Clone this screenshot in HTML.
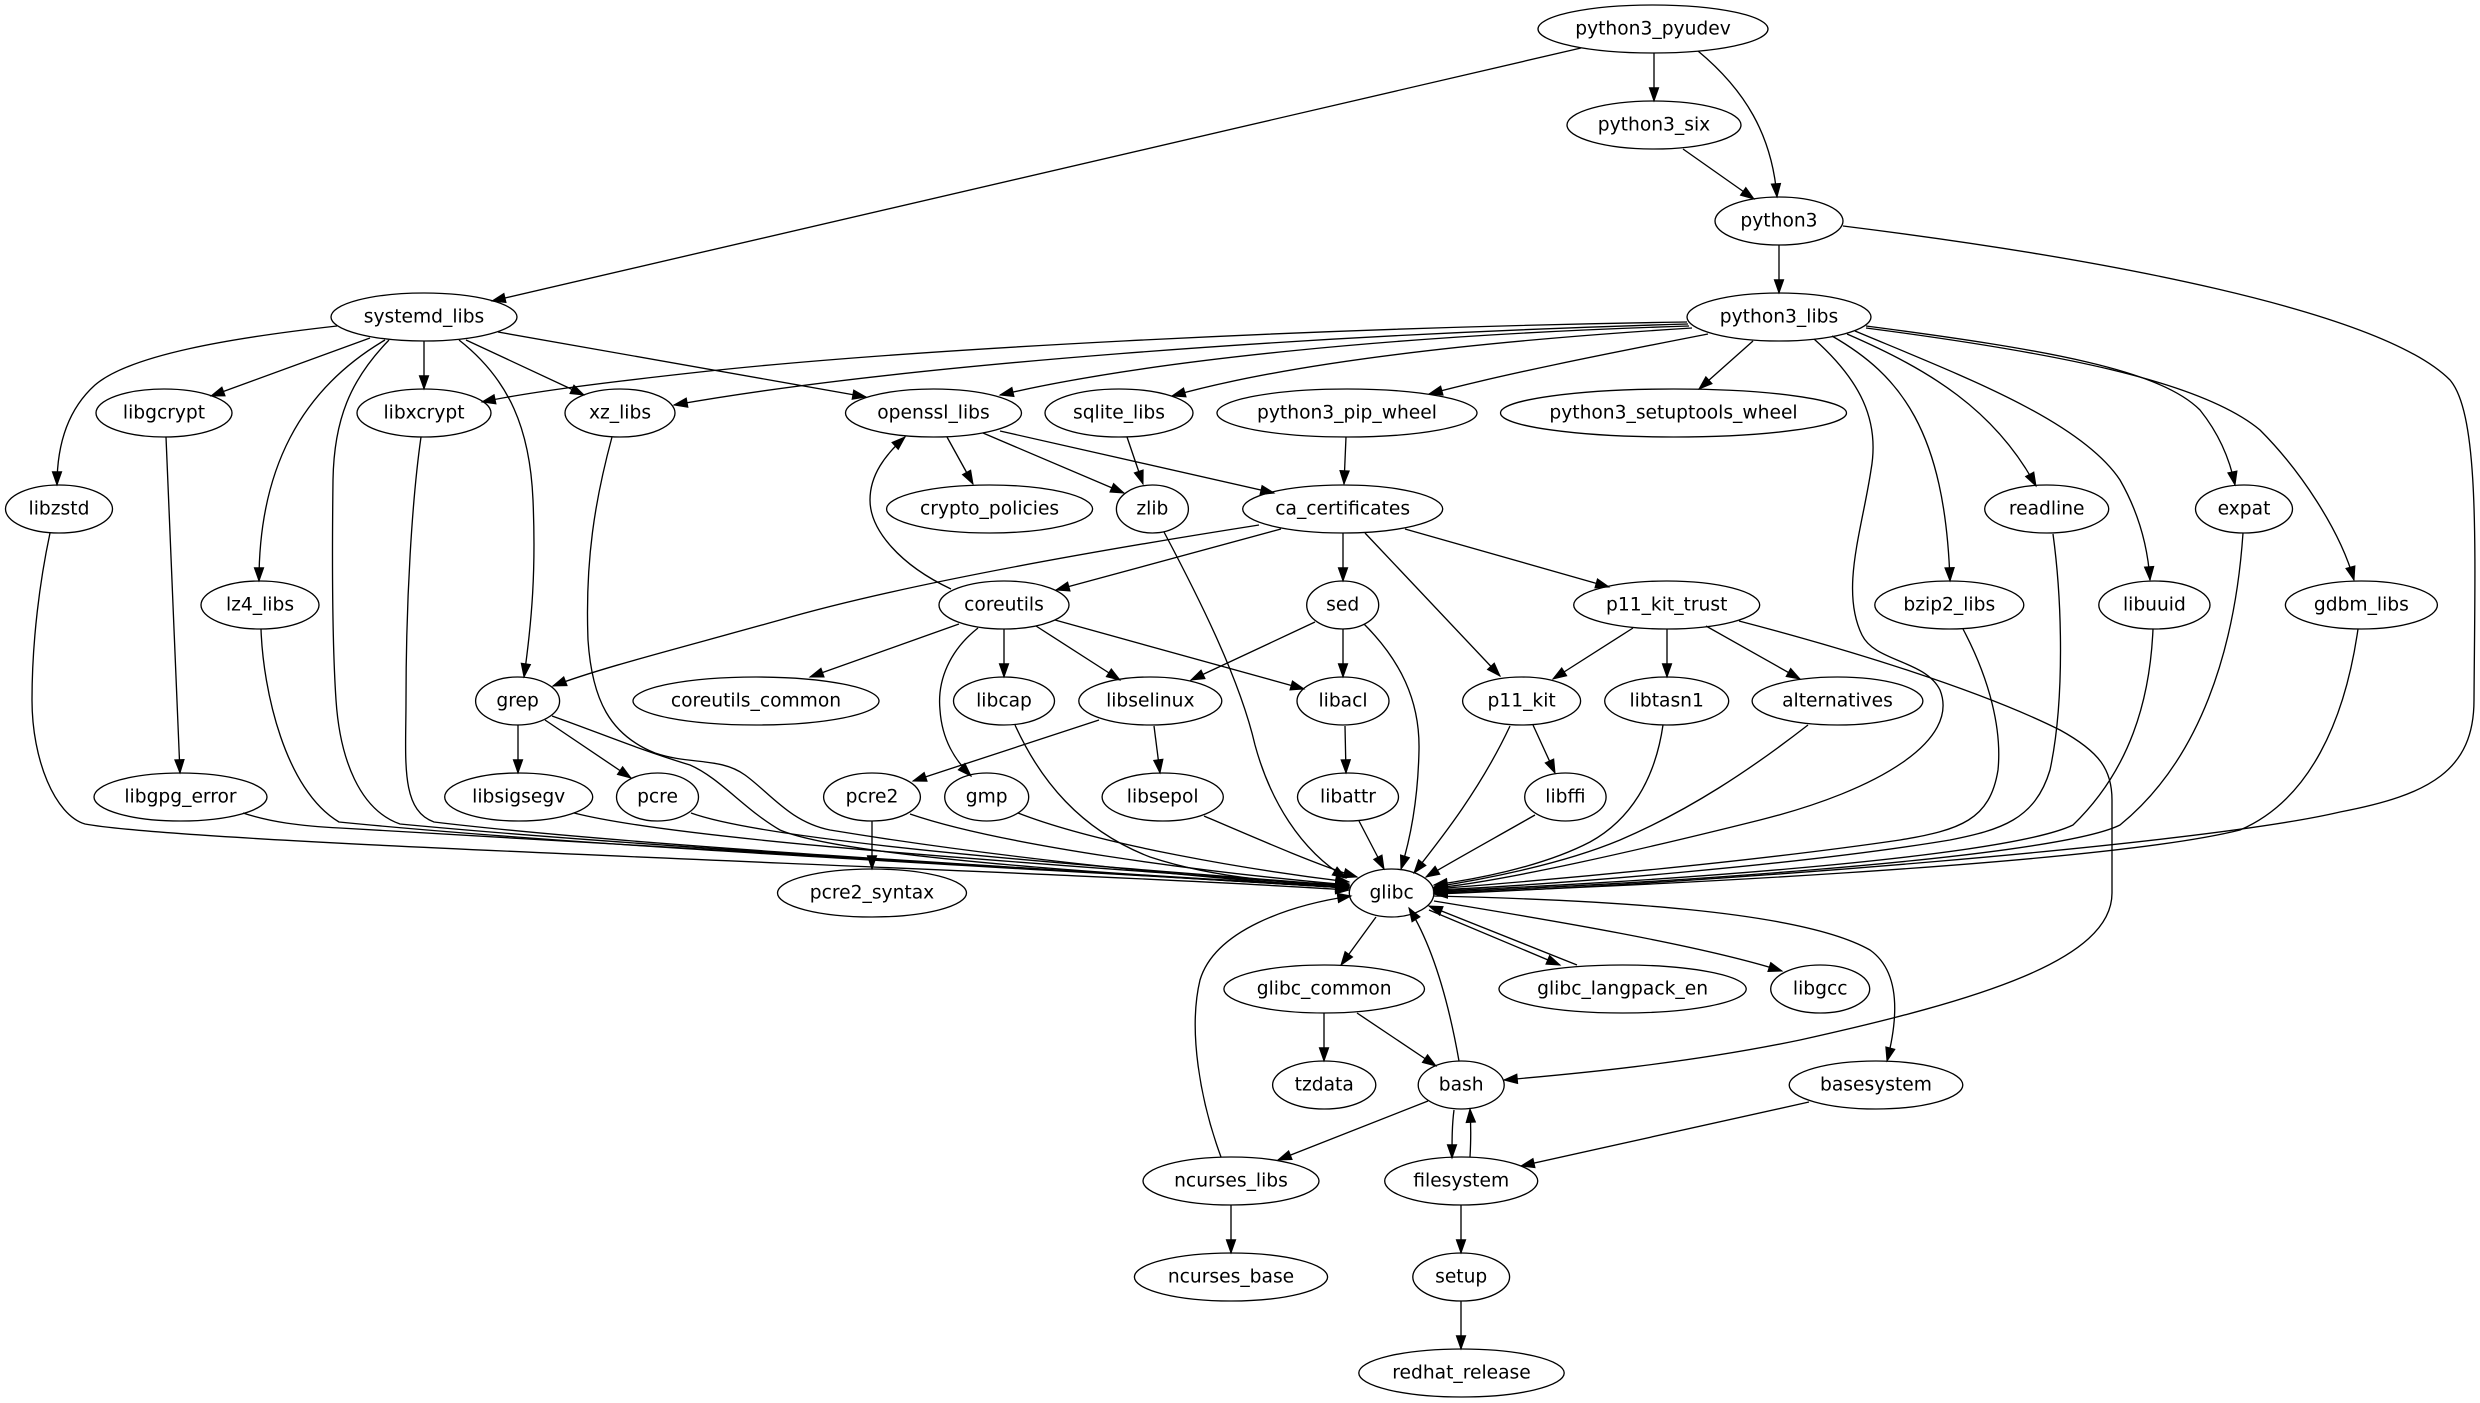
<!DOCTYPE html>
<html><head><meta charset="utf-8"><style>
html,body{margin:0;padding:0;background:#fff;}
svg{display:block;}
text{font-family:"DejaVu Sans","Liberation Sans",sans-serif;font-size:18.67px;fill:#000;text-anchor:middle;}
ellipse{fill:none;stroke:#000;stroke-width:1.33;}
path{fill:none;stroke:#000;stroke-width:1.33;}
</style></head><body>
<svg width="2480" height="1403" viewBox="0 0 2480 1403" xmlns="http://www.w3.org/2000/svg">
<defs><marker id="a" markerUnits="userSpaceOnUse" markerWidth="14" markerHeight="10" refX="13.3" refY="4.67" orient="auto" viewBox="0 0 14 10" style="overflow:visible"><path d="M0,0 L13.3,4.67 L0,9.33 z" style="fill:#000;stroke:#000;stroke-width:1"/></marker></defs>
<rect width="2480" height="1403" fill="#fff"/>
<g marker-end="url(#a)">
<path d="M1581,48 L492,301" marker-end="url(#a)"/>
<path d="M1654,53 L1654,101" marker-end="url(#a)"/>
<path d="M1698,51 C1745,90 1772,135 1777,197" marker-end="url(#a)"/>
<path d="M1683,149 L1754,199" marker-end="url(#a)"/>
<path d="M1779,245 L1779,293" marker-end="url(#a)"/>
<path d="M1843,226 C2100,258 2380,310 2450,380 C2480,415 2475,550 2474,700 C2474,770 2430,795 2340,812 C2200,845 1700,884 1434,894" marker-end="url(#a)"/>
<path d="M337,326 C230,338 130,355 95,385 C65,412 57,450 57,485" marker-end="url(#a)"/>
<path d="M370,338 L211,396" marker-end="url(#a)"/>
<path d="M385,340 C300,390 259,470 259,581" marker-end="url(#a)"/>
<path d="M389,340 C350,380 334,420 333,480 C332,560 332,640 336,700 C340,760 360,810 400,824 C650,848 1100,872 1349,888" marker-end="url(#a)"/>
<path d="M424,341 L424,389" marker-end="url(#a)"/>
<path d="M459,340 C510,380 530,430 533,500 C536,570 532,620 524,677" marker-end="url(#a)"/>
<path d="M466,340 L584,395" marker-end="url(#a)"/>
<path d="M498,332 L866,397" marker-end="url(#a)"/>
<path d="M1687,322 C1300,328 900,350 700,372 C600,383 530,392 482,402" marker-end="url(#a)"/>
<path d="M1688,324 C1300,335 900,365 674,405" marker-end="url(#a)"/>
<path d="M1689,326 C1400,335 1150,360 1000,395" marker-end="url(#a)"/>
<path d="M1692,328 C1500,340 1300,360 1172,396" marker-end="url(#a)"/>
<path d="M1708,334 C1600,355 1500,375 1429,394" marker-end="url(#a)"/>
<path d="M1753,341 L1699,389" marker-end="url(#a)"/>
<path d="M1814,339 C1860,380 1880,420 1871,470 C1862,530 1840,590 1862,635 C1875,662 1925,660 1940,690 C1960,740 1880,790 1760,820 C1640,850 1500,882 1434,888" marker-end="url(#a)"/>
<path d="M1832,336 C1900,375 1945,430 1950,581" marker-end="url(#a)"/>
<path d="M1847,334 C1930,370 1995,410 2036,486" marker-end="url(#a)"/>
<path d="M1855,331 C1960,375 2080,420 2120,480 C2140,515 2148,550 2150,580" marker-end="url(#a)"/>
<path d="M1866,326 C2050,350 2160,370 2200,410 C2220,435 2230,460 2235,485" marker-end="url(#a)"/>
<path d="M1866,328 C2050,352 2200,380 2260,430 C2300,470 2340,530 2354,580" marker-end="url(#a)"/>
<path d="M166,437 L180,773" marker-end="url(#a)"/>
<path d="M421,437 C412,500 406,600 406,700 C406,760 400,810 434,822 C650,848 1100,872 1349,888" marker-end="url(#a)"/>
<path d="M612,437 C595,500 585,560 588,640 C592,700 610,735 655,753 C690,765 720,757 745,775 C770,793 790,822 830,830 C1000,858 1200,878 1349,888" marker-end="url(#a)"/>
<path d="M947,437 L973,484" marker-end="url(#a)"/>
<path d="M983,433 L1124,493" marker-end="url(#a)"/>
<path d="M1000,431 L1274,493" marker-end="url(#a)"/>
<path d="M1127,437 L1143,484" marker-end="url(#a)"/>
<path d="M1346,437 L1344,484" marker-end="url(#a)"/>
<path d="M50,533 C40,580 32,640 32,700 C32,760 55,815 85,824 C200,845 1000,868 1349,890" marker-end="url(#a)"/>
<path d="M1164,532 C1200,600 1240,680 1255,745 C1270,800 1300,850 1346,878" marker-end="url(#a)"/>
<path d="M1259,525 C1100,550 900,585 780,620 C680,648 600,668 553,686" marker-end="url(#a)"/>
<path d="M1281,529 L1056,590" marker-end="url(#a)"/>
<path d="M1343,533 L1343,581" marker-end="url(#a)"/>
<path d="M1365,533 L1500,676" marker-end="url(#a)"/>
<path d="M1405,529 L1609,587" marker-end="url(#a)"/>
<path d="M2053,534 C2062,600 2065,700 2050,770 C2035,820 2000,830 1950,840 C1800,865 1550,885 1434,890" marker-end="url(#a)"/>
<path d="M2243,533 C2235,650 2200,760 2120,825 C2050,860 1600,887 1434,892" marker-end="url(#a)"/>
<path d="M261,629 C263,690 285,790 339,822 C600,848 1100,872 1349,888" marker-end="url(#a)"/>
<path d="M951,589 C900,565 870,530 870,500 C870,475 885,455 905,437" marker-end="url(#a)"/>
<path d="M959,624 L810,677" marker-end="url(#a)"/>
<path d="M1004,629 L1004,677" marker-end="url(#a)"/>
<path d="M1036,626 L1120,680" marker-end="url(#a)"/>
<path d="M1055,620 L1304,689" marker-end="url(#a)"/>
<path d="M978,628 C950,650 937,680 940,710 C942,740 955,760 971,776" marker-end="url(#a)"/>
<path d="M1315,622 L1191,680" marker-end="url(#a)"/>
<path d="M1343,629 L1343,677" marker-end="url(#a)"/>
<path d="M1364,624 C1400,660 1420,700 1419,750 C1418,800 1410,840 1401,869" marker-end="url(#a)"/>
<path d="M1633,628 L1553,679" marker-end="url(#a)"/>
<path d="M1667,629 L1667,677" marker-end="url(#a)"/>
<path d="M1706,626 L1800,679" marker-end="url(#a)"/>
<path d="M1739,621 C1850,650 1980,690 2060,730 C2100,752 2112,770 2112,800 L2112,893 C2112,960 1980,1000 1800,1040 C1680,1065 1560,1075 1504,1080" marker-end="url(#a)"/>
<path d="M1963,629 C1990,680 2002,730 1998,770 C1990,820 1960,830 1900,840 C1750,862 1550,880 1434,889" marker-end="url(#a)"/>
<path d="M2153,629 C2150,700 2130,770 2073,825 C2000,860 1600,885 1434,891" marker-end="url(#a)"/>
<path d="M2358,629 C2345,720 2310,800 2240,830 C2100,865 1600,888 1434,893" marker-end="url(#a)"/>
<path d="M518,725 L518,773" marker-end="url(#a)"/>
<path d="M545,720 L631,778" marker-end="url(#a)"/>
<path d="M552,716 C600,733 640,750 690,765 C720,778 745,810 780,830 C850,860 1200,880 1349,886" marker-end="url(#a)"/>
<path d="M1015,725 C1040,780 1080,830 1150,857 C1220,880 1300,884 1349,884" marker-end="url(#a)"/>
<path d="M1099,720 L913,781" marker-end="url(#a)"/>
<path d="M1154,726 L1160,773" marker-end="url(#a)"/>
<path d="M1345,726 L1346,773" marker-end="url(#a)"/>
<path d="M1510,726 C1480,790 1440,840 1414,873" marker-end="url(#a)"/>
<path d="M1533,725 L1555,773" marker-end="url(#a)"/>
<path d="M1663,725 C1655,780 1630,820 1590,842 C1540,868 1470,880 1434,885" marker-end="url(#a)"/>
<path d="M1808,725 C1750,770 1690,810 1620,840 C1560,865 1480,880 1434,887" marker-end="url(#a)"/>
<path d="M243,813 C270,822 300,826 340,828 C600,845 1100,870 1349,888" marker-end="url(#a)"/>
<path d="M574,813 C700,845 1150,870 1349,887" marker-end="url(#a)"/>
<path d="M691,813 C780,845 1150,870 1349,886" marker-end="url(#a)"/>
<path d="M872,821 L872,869" marker-end="url(#a)"/>
<path d="M910,814 C1000,845 1200,872 1349,885" marker-end="url(#a)"/>
<path d="M1018,813 C1100,845 1250,870 1349,882" marker-end="url(#a)"/>
<path d="M1204,816 C1260,840 1320,866 1357,877" marker-end="url(#a)"/>
<path d="M1359,821 L1384,869" marker-end="url(#a)"/>
<path d="M1535,815 C1500,835 1460,857 1426,877" marker-end="url(#a)"/>
<path d="M1376,917 L1341,965" marker-end="url(#a)"/>
<path d="M1429,910 L1560,965" marker-end="url(#a)"/>
<path d="M1434,901 C1550,920 1700,945 1782,971" marker-end="url(#a)"/>
<path d="M1434,896 C1600,900 1800,910 1870,950 C1905,975 1895,1030 1887,1061" marker-end="url(#a)"/>
<path d="M1577,965 L1429,906" marker-end="url(#a)"/>
<path d="M1324,1013 L1324,1061" marker-end="url(#a)"/>
<path d="M1357,1013 L1436,1066" marker-end="url(#a)"/>
<path d="M1459,1061 C1450,1010 1435,950 1409,908" marker-end="url(#a)"/>
<path d="M1428,1101 L1278,1160" marker-end="url(#a)"/>
<path d="M1454,1110 C1452,1125 1452,1140 1452,1158" marker-end="url(#a)"/>
<path d="M1809,1102 L1521,1166" marker-end="url(#a)"/>
<path d="M1470,1157 C1471,1140 1471,1125 1470,1109" marker-end="url(#a)"/>
<path d="M1461,1205 L1461,1253" marker-end="url(#a)"/>
<path d="M1221,1157 C1200,1100 1188,1030 1200,980 C1215,930 1290,905 1351,896" marker-end="url(#a)"/>
<path d="M1231,1205 L1231,1253" marker-end="url(#a)"/>
<path d="M1461,1301 L1461,1349" marker-end="url(#a)"/>
</g>
<g>
<ellipse cx="1653" cy="29" rx="115" ry="24"/><text x="1653" y="34.5">python3_pyudev</text>
<ellipse cx="1654" cy="125" rx="87" ry="24"/><text x="1654" y="130.5">python3_six</text>
<ellipse cx="1779" cy="221" rx="64" ry="24"/><text x="1779" y="226.5">python3</text>
<ellipse cx="424" cy="317" rx="93" ry="24"/><text x="424" y="322.5">systemd_libs</text>
<ellipse cx="1779" cy="317" rx="92" ry="24"/><text x="1779" y="322.5">python3_libs</text>
<ellipse cx="164" cy="413" rx="68" ry="24"/><text x="164" y="418.5">libgcrypt</text>
<ellipse cx="424" cy="413" rx="67" ry="24"/><text x="424" y="418.5">libxcrypt</text>
<ellipse cx="620" cy="413" rx="55" ry="24"/><text x="620" y="418.5">xz_libs</text>
<ellipse cx="933.5" cy="413" rx="88" ry="24"/><text x="933.5" y="418.5">openssl_libs</text>
<ellipse cx="1119" cy="413" rx="74" ry="24"/><text x="1119" y="418.5">sqlite_libs</text>
<ellipse cx="1347" cy="413" rx="130" ry="24"/><text x="1347" y="418.5">python3_pip_wheel</text>
<ellipse cx="1673.5" cy="413" rx="173" ry="24"/><text x="1673.5" y="418.5">python3_setuptools_wheel</text>
<ellipse cx="59" cy="509" rx="53.5" ry="24"/><text x="59" y="514.5">libzstd</text>
<ellipse cx="989.6" cy="509" rx="103" ry="24"/><text x="989.6" y="514.5">crypto_policies</text>
<ellipse cx="1152.4" cy="509" rx="36" ry="24"/><text x="1152.4" y="514.5">zlib</text>
<ellipse cx="1342.7" cy="509" rx="100" ry="24"/><text x="1342.7" y="514.5">ca_certificates</text>
<ellipse cx="2046.7" cy="509" rx="62" ry="24"/><text x="2046.7" y="514.5">readline</text>
<ellipse cx="2244" cy="509" rx="48.5" ry="24"/><text x="2244" y="514.5">expat</text>
<ellipse cx="260" cy="605" rx="59" ry="24"/><text x="260" y="610.5">lz4_libs</text>
<ellipse cx="1004" cy="605" rx="65" ry="24"/><text x="1004" y="610.5">coreutils</text>
<ellipse cx="1342.7" cy="605" rx="36" ry="24"/><text x="1342.7" y="610.5">sed</text>
<ellipse cx="1666.7" cy="605" rx="93" ry="24"/><text x="1666.7" y="610.5">p11_kit_trust</text>
<ellipse cx="1949.3" cy="605" rx="74.5" ry="24"/><text x="1949.3" y="610.5">bzip2_libs</text>
<ellipse cx="2154.4" cy="605" rx="55.6" ry="24"/><text x="2154.4" y="610.5">libuuid</text>
<ellipse cx="2361.4" cy="605" rx="76" ry="24"/><text x="2361.4" y="610.5">gdbm_libs</text>
<ellipse cx="517.6" cy="701" rx="42" ry="24"/><text x="517.6" y="706.5">grep</text>
<ellipse cx="756" cy="701" rx="123" ry="24"/><text x="756" y="706.5">coreutils_common</text>
<ellipse cx="1004" cy="701" rx="50.5" ry="24"/><text x="1004" y="706.5">libcap</text>
<ellipse cx="1150.3" cy="701" rx="71.5" ry="24"/><text x="1150.3" y="706.5">libselinux</text>
<ellipse cx="1343" cy="701" rx="46" ry="24"/><text x="1343" y="706.5">libacl</text>
<ellipse cx="1521.6" cy="701" rx="59" ry="24"/><text x="1521.6" y="706.5">p11_kit</text>
<ellipse cx="1666.7" cy="701" rx="62" ry="24"/><text x="1666.7" y="706.5">libtasn1</text>
<ellipse cx="1837.5" cy="701" rx="85.4" ry="24"/><text x="1837.5" y="706.5">alternatives</text>
<ellipse cx="180.5" cy="797" rx="86.5" ry="24"/><text x="180.5" y="802.5">libgpg_error</text>
<ellipse cx="518.7" cy="797" rx="74" ry="24"/><text x="518.7" y="802.5">libsigsegv</text>
<ellipse cx="657.5" cy="797" rx="41" ry="24"/><text x="657.5" y="802.5">pcre</text>
<ellipse cx="872" cy="797" rx="48.4" ry="24"/><text x="872" y="802.5">pcre2</text>
<ellipse cx="986.7" cy="797" rx="42" ry="24"/><text x="986.7" y="802.5">gmp</text>
<ellipse cx="1162.7" cy="797" rx="60.6" ry="24"/><text x="1162.7" y="802.5">libsepol</text>
<ellipse cx="1348" cy="797" rx="50.5" ry="24"/><text x="1348" y="802.5">libattr</text>
<ellipse cx="1565.4" cy="797" rx="40.7" ry="24"/><text x="1565.4" y="802.5">libffi</text>
<ellipse cx="1391.6" cy="893" rx="42.3" ry="24"/><text x="1391.6" y="898.5">glibc</text>
<ellipse cx="872" cy="893" rx="94.5" ry="24"/><text x="872" y="898.5">pcre2_syntax</text>
<ellipse cx="1324.2" cy="989" rx="100.3" ry="24"/><text x="1324.2" y="994.5">glibc_common</text>
<ellipse cx="1622.6" cy="989" rx="123.6" ry="24"/><text x="1622.6" y="994.5">glibc_langpack_en</text>
<ellipse cx="1820.2" cy="989" rx="49.5" ry="24"/><text x="1820.2" y="994.5">libgcc</text>
<ellipse cx="1324.2" cy="1085" rx="51.6" ry="24"/><text x="1324.2" y="1090.5">tzdata</text>
<ellipse cx="1461.2" cy="1085" rx="43" ry="24"/><text x="1461.2" y="1090.5">bash</text>
<ellipse cx="1876" cy="1085" rx="86.8" ry="24"/><text x="1876" y="1090.5">basesystem</text>
<ellipse cx="1231" cy="1181" rx="88" ry="24"/><text x="1231" y="1186.5">ncurses_libs</text>
<ellipse cx="1461.2" cy="1181" rx="76.5" ry="24"/><text x="1461.2" y="1186.5">filesystem</text>
<ellipse cx="1231" cy="1277" rx="96.6" ry="24"/><text x="1231" y="1282.5">ncurses_base</text>
<ellipse cx="1461.2" cy="1277" rx="48.4" ry="24"/><text x="1461.2" y="1282.5">setup</text>
<ellipse cx="1461.5" cy="1373" rx="102.7" ry="24"/><text x="1461.5" y="1378.5">redhat_release</text>
</g>
</svg>
</body></html>
